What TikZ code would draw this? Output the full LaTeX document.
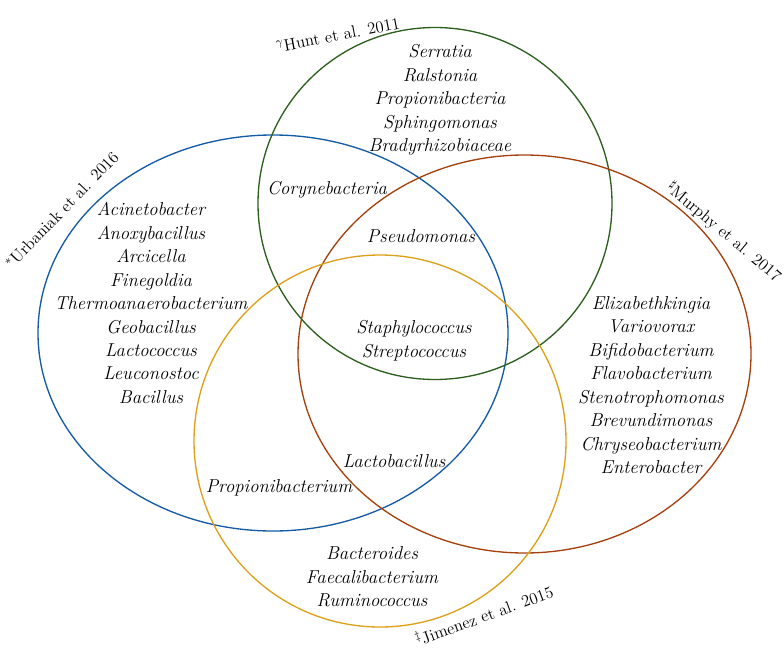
\documentclass[tikz,border=0pt]{standalone}
\usepackage{amssymb}

\definecolor{hunt}{RGB}{45,95,30}
\definecolor{urbaniak}{RGB}{20,90,165}
\definecolor{murphy}{RGB}{165,65,15}
\definecolor{jimenez}{RGB}{220,160,25}

\begin{document}
\begin{tikzpicture}[x=0.75pt,y=0.75pt,
    taxa/.style={font=\fontsize{14}{17.6}\selectfont\itshape,align=center,inner sep=0pt},
    study/.style={font=\fontsize{12.5}{15}\selectfont,inner sep=0pt},
    set/.style={line width=1pt}]
        \useasboundingbox (0,0) rectangle (784,-650);

        % Sets
        \draw[set,urbaniak] (273,-333) ellipse [x radius=235,y radius=198];
        \draw[set,hunt] (435,-203.5) ellipse [x radius=177,y radius=176];
        \draw[set,murphy] (524.5,-354) ellipse [x radius=226.5,y radius=199];
        \draw[set,jimenez] (380,-441) circle [radius=186];

        % Study labels
        \node[study,rotate=11] (huntlbl) at (338,-35) {$^{\gamma}$Hunt et al. 2011};
        \node[study,rotate=46] (urbaniaklbl) at (62,-210) {$^{*}$Urbaniak et al. 2016};
        \node[study,rotate=-40] (murphylbl) at (724,-232) {$^{\sharp}$Murphy et al. 2017};
        \node[study,rotate=20] (jimenezlbl) at (484,-615) {$^{\ddagger}$Jimenez et al. 2015};

        % Only one study
        \node[taxa] (huntonly) at (440,-100) {Serratia\\Ralstonia\\Propionibacteria\\Sphingomonas\\Bradyrhizobiaceae};
        \node[taxa] (urbaniakonly) at (151,-303) {Acinetobacter\\Anoxybacillus\\Arcicella\\Finegoldia\\Thermoanaerobacterium\\Geobacillus\\Lactococcus\\Leuconostoc\\Bacillus};
        \node[taxa] (murphyonly) at (651,-385) {Elizabethkingia\\Variovorax\\Bifidobacterium\\Flavobacterium\\Stenotrophomonas\\Brevundimonas\\Chryseobacterium\\Enterobacter};
        \node[taxa] (jimenezonly) at (372,-577) {Bacteroides\\Faecalibacterium\\Ruminococcus};

        % Overlaps
        \node[taxa] (cory) at (327,-190) {Corynebacteria};
        \node[taxa] (pseudo) at (421,-236) {Pseudomonas};
        \node[taxa] (allfour) at (414,-340.5) {Staphylococcus\\Streptococcus};
        \node[taxa] (lacto) at (394,-461) {Lactobacillus};
        \node[taxa] (propioni) at (279,-488) {Propionibacterium};
      \end{tikzpicture}
\end{document}
